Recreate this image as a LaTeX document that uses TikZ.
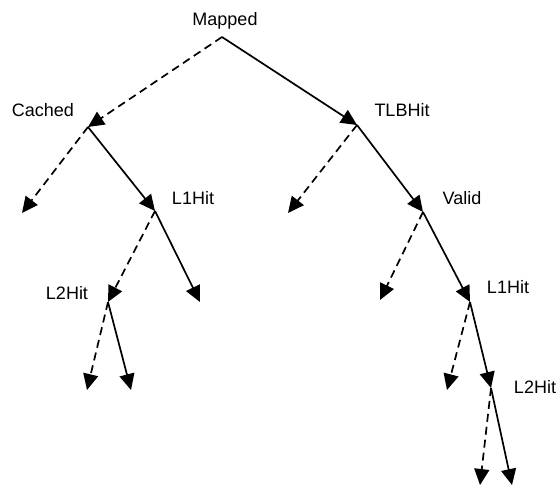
\documentclass[tikz,border=0pt]{standalone}
\usepackage{fontspec}
\setmainfont{Liberation Sans}
\usetikzlibrary{arrows.meta}
\begin{document}
\begin{tikzpicture}[x=1pt,y=-1pt,
  conn/.style={line width=1.7pt,-{Triangle[length=16pt,width=15pt]}},
  yes/.style={conn},
  no/.style={conn,dash pattern=on 8pt off 5pt},
  lbl/.style={font=\fontsize{18}{20}\selectfont,inner sep=0pt}]
\useasboundingbox (0,0) rectangle (559,488);
% branch points
\coordinate (mapped) at (222,37);
\coordinate (cached) at (88,127);
\coordinate (l1a) at (155,211);
\coordinate (l2a) at (108,302);
\coordinate (tlb) at (357,125);
\coordinate (valid) at (423,212);
\coordinate (l1b) at (470,302);
\coordinate (l2b) at (491,388);
% leaves
\coordinate (e1) at (22,213);
\coordinate (e2) at (200,302);
\coordinate (e3) at (87,390);
\coordinate (e4) at (131,390);
\coordinate (e5) at (288,213);
\coordinate (e6) at (380,300);
\coordinate (e7) at (447,390);
\coordinate (e8) at (480,485);
\coordinate (e9) at (512,485);
% labels
\node[lbl] (tmapped) at (225,21) {Mapped};
\node[lbl] (tcached) at (43,110) {Cached};
\node[lbl] (tl1a) at (193,198) {L1Hit};
\node[lbl] (tl2a) at (67,293) {L2Hit};
\node[lbl] (ttlb) at (402,110) {TLBHit};
\node[lbl] (tvalid) at (462,198) {Valid};
\node[lbl] (tl1b) at (508,287) {L1Hit};
\node[lbl] (tl2b) at (535,387) {L2Hit};
% connectors
\draw[no] (mapped) -- (cached);
\draw[yes] (mapped) -- (tlb);
\draw[no] (cached) -- (e1);
\draw[yes] (cached) -- (l1a);
\draw[no] (l1a) -- (l2a);
\draw[yes] (l1a) -- (e2);
\draw[no] (l2a) -- (e3);
\draw[yes] (l2a) -- (e4);
\draw[no] (tlb) -- (e5);
\draw[yes] (tlb) -- (valid);
\draw[no] (valid) -- (e6);
\draw[yes] (valid) -- (l1b);
\draw[no] (l1b) -- (e7);
\draw[yes] (l1b) -- (l2b);
\draw[no] (l2b) -- (e8);
\draw[yes] (l2b) -- (e9);
\end{tikzpicture}
\end{document}
